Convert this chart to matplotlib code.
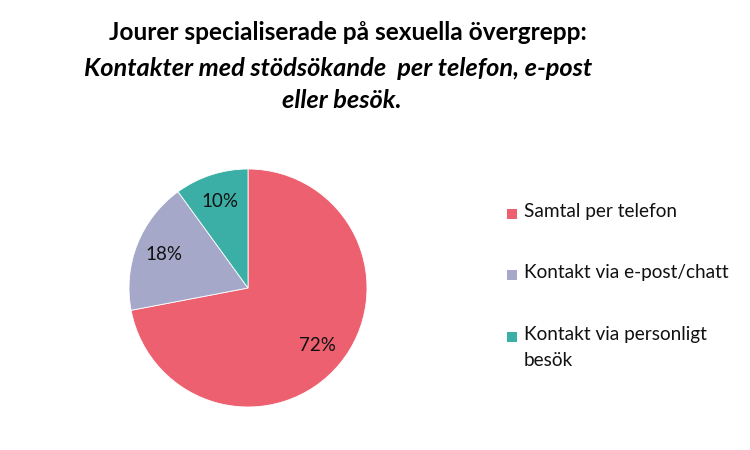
import matplotlib
matplotlib.use("Agg")
import matplotlib.pyplot as plt
from matplotlib.patches import Rectangle

categories = ["Samtal per telefon", "Kontakt via e-post/chatt", "Kontakt via personligt\nbesök"]
values = [72, 18, 10]
colors = ["#EC6070", "#A5A8C8", "#3BAFA5"]
title_line1 = "Jourer specialiserade på sexuella övergrepp:"
title_line2 = "Kontakter med stödsökande  per telefon, e-post"
title_line3 = "eller besök."

plt.rcParams['font.family'] = ['Lato', 'DejaVu Sans']

W, H = 750, 450
fig = plt.figure(figsize=(7.5, 4.5), dpi=100)

cx, cy, r = 248, 288, 119
ax = fig.add_axes([(cx - r) / W, (H - cy - r) / H, 2 * r / W, 2 * r / H])
wedges, texts, autotexts = ax.pie(values, colors=colors, startangle=90, counterclock=False,
                                  autopct=lambda p: f"{p:.0f}%", pctdistance=0.76,
                                  wedgeprops=dict(linewidth=0.6, edgecolor="white"),
                                  textprops=dict(fontsize=13.5, color="#111111"))
ax.set_xlim(-1, 1)
ax.set_ylim(-1, 1)
ax.set_aspect('equal')

fig.text(348 / W, 1 - 33 / H, title_line1, ha='center', va='center',
         fontsize=17.6, fontweight='bold', color='black')
fig.text(338 / W, 1 - 68 / H, title_line2, ha='center', va='center',
         fontsize=18.3, fontweight='bold', fontstyle='italic', color='black')
fig.text(342 / W, 1 - 101 / H, title_line3, ha='center', va='center',
         fontsize=18.3, fontweight='bold', fontstyle='italic', color='black')

leg_y = [214, 275, 337]
for lab, col, y in zip(categories, colors, leg_y):
    fig.patches.append(Rectangle((507 / W, 1 - (y + 5) / H), 10 / W, 10 / H,
                                 transform=fig.transFigure, facecolor=col, edgecolor='none'))
    fig.text(524 / W, 1 - (y - 11) / H, lab, ha='left', va='top', fontsize=13.7,
             color='#111111', linespacing=1.65)

fig.savefig("out.png", dpi=100)
